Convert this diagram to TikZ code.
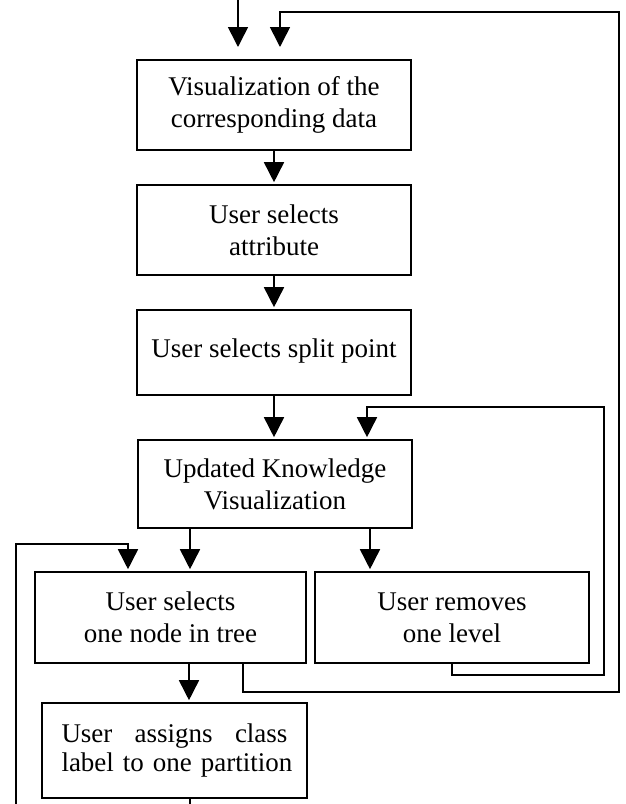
\documentclass[tikz,border=0pt]{standalone}
\usepackage{fontspec}
\setmainfont{Liberation Serif}
\usetikzlibrary{arrows.meta}

\begin{document}
\begin{tikzpicture}[x=1pt, y=-1pt,
		stagebox/.style={draw, line width=1.6pt, minimum width=274pt, minimum height=90pt, inner sep=4pt, align=center, font=\fontsize{27}{32}\selectfont},
		flow/.style={line width=1.6pt, -{Triangle[length=20pt,width=20pt]}, shorten >=2pt}]
			%%%%% START %%%%%
			
			\useasboundingbox (0, 0) rectangle (625, 804);
			
			\node[stagebox] (vis) at (274, 105) {Visualization of the\\corresponding data};
			\node[stagebox] (attr) at (274, 230) {User selects\\attribute};
			\node[stagebox, minimum height=85pt] (split) at (274, 352.5) {\raisebox{8pt}{User selects split point}};
			\node[stagebox, minimum height=88pt] (upd) at (275, 484) {Updated Knowledge\\Visualization};
			\node[stagebox, minimum width=271pt, minimum height=91pt] (sel) at (170.5, 617.5) {User selects\\one node in tree};
			\node[stagebox, minimum height=91pt] (rem) at (452, 617.5) {User removes\\one level};
			\node[stagebox, minimum width=265pt, minimum height=95pt, text width=226pt, align=left, font=\fontsize{27}{29}\selectfont] (assign) at (174.5, 750.5) {User\hfill assigns\hfill class\\\mbox{label to one partition}};
			
			\coordinate (in1) at (238, 0);
			\coordinate (in1end) at (238, 49);
			\coordinate (in2end) at (280, 49);
			\coordinate (updL) at ([xshift=-85pt]upd.south);
			\coordinate (updR) at ([xshift=95pt]upd.south);
			\coordinate (updIn) at ([xshift=92pt]upd.north);
			\coordinate (selOut) at ([xshift=72.5pt]sel.south);
			\coordinate (selDown) at ([xshift=18.5pt]sel.south);
			\coordinate (selIn) at ([xshift=-42.5pt]sel.north);
			\coordinate (assignOut) at ([xshift=15.5pt]assign.south);
			
			% main flow
			\draw[flow] (in1) -- (in1end);
			\draw[flow] (vis.south) -- (attr.north);
			\draw[flow] (attr.south) -- (split.north);
			\draw[flow] (split.south) -- (split.south |- upd.north);
			\draw[flow] (updL) -- (updL |- sel.north);
			\draw[flow] (updR) -- (updR |- rem.north);
			\draw[flow] (selDown) -- (selDown |- assign.north);
			
			% feedback loops
			\draw[flow] (rem.south) -- ++(0, 11) -| (604, 407) -| (updIn);
			\draw[flow] (selOut) -- ++(0, 28) -| (619, 12) -| (in2end);
			\draw[flow] (assignOut) -- ++(0, 14) -| (16, 544) -| (selIn);
			
			%%%%% END %%%%%
\end{tikzpicture}
\end{document}
